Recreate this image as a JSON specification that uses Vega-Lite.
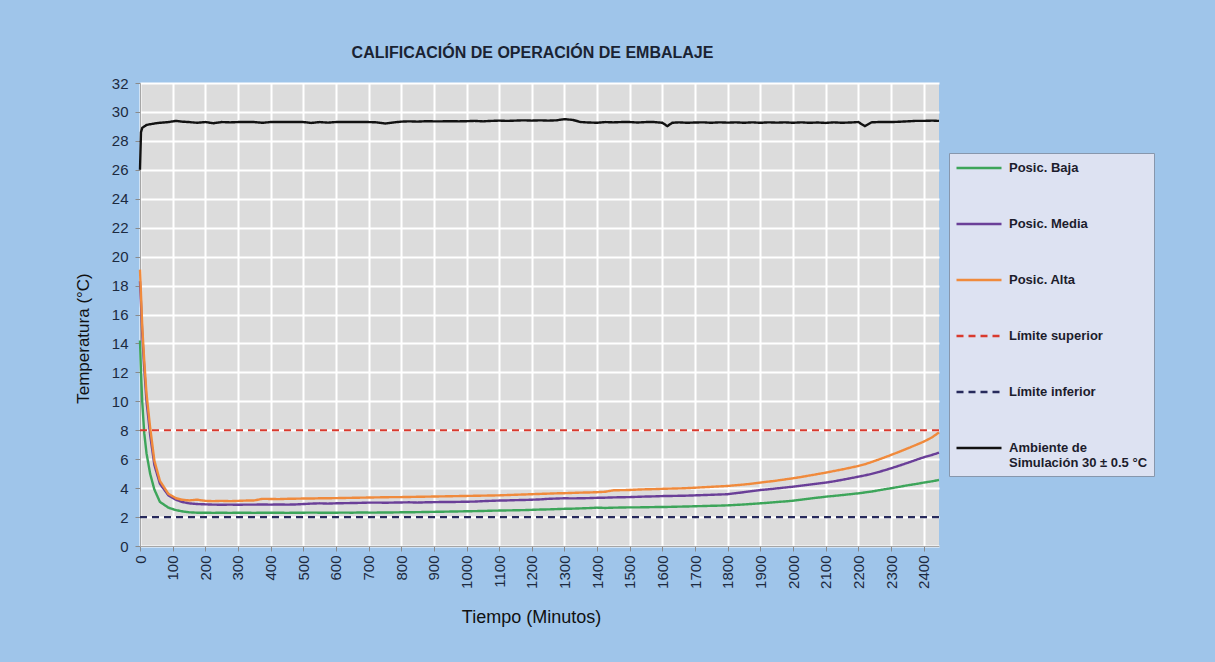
{
  "$schema": "https://vega.github.io/schema/vega-lite/v6.json",
  "width": 799,
  "height": 463,
  "autosize": {"type": "none"},
  "padding": {"left": 140, "top": 83, "right": 276, "bottom": 116},
  "background": "#9fc5ea",
  "title": {
    "text": "CALIFICACIÓN DE OPERACIÓN DE EMBALAJE",
    "font": "Liberation Sans",
    "fontSize": 16,
    "fontWeight": "bold",
    "color": "#1a2333",
    "anchor": "middle",
    "baseline": "middle",
    "offset": 7,
    "dx": -7
  },
  "config": {
    "font": "Liberation Sans",
    "view": {"fill": "#dcdcdc", "stroke": null},
    "axis": {
      "gridColor": "#ffffff",
      "gridWidth": 2,
      "gridOpacity": 1,
      "domainColor": "#a6a6a6",
      "tickColor": "#8a8a8a",
      "tickSize": 5,
      "labelColor": "#1c2a40",
      "labelFont": "Liberation Sans",
      "labelFontSize": 15,
      "titleFont": "Liberation Sans",
      "titleFontWeight": "normal",
      "titleColor": "#111111",
      "labelFlush": false,
      "labelOverlap": false
    },
    "legend": {
      "orient": "none",
      "legendX": 809,
      "legendY": 70,
      "padding": 6,
      "fillColor": "#dde2f2",
      "strokeColor": "#8797ad",
      "symbolType": "M-1,0H5",
      "symbolSize": 225,
      "symbolStrokeWidth": 2.5,
      "labelFont": "Liberation Sans",
      "labelFontSize": 13,
      "labelFontWeight": "bold",
      "labelColor": "#1c1c2c",
      "labelOffset": 36,
      "rowPadding": 40,
      "labelLimit": 300
    }
  },
  "layer": [
    {
      "data": {
        "values": [
          {"t": 0, "b": 14.2, "m": 18.3, "a": 19.1, "k": 26.0},
          {"t": 3, "b": 12.0, "m": 16.8, "a": 17.4, "k": 28.6},
          {"t": 7, "b": 9.9, "m": 14.6, "a": 15.1, "k": 28.9},
          {"t": 13, "b": 7.8, "m": 12.3, "a": 12.8, "k": 29.0},
          {"t": 20, "b": 6.4, "m": 10.0, "a": 10.5, "k": 29.1},
          {"t": 31, "b": 5.0, "m": 7.7, "a": 8.2, "k": 29.15},
          {"t": 44, "b": 3.9, "m": 5.6, "a": 5.9, "k": 29.2},
          {"t": 61, "b": 3.05, "m": 4.3, "a": 4.5, "k": 29.25},
          {"t": 87, "b": 2.65, "m": 3.5, "a": 3.6, "k": 29.3},
          {"t": 110, "b": 2.48, "m": 3.2, "a": 3.3, "k": 29.38},
          {"t": 128, "b": 2.4, "m": 3.05, "a": 3.2, "k": 29.33},
          {"t": 150, "b": 2.33, "m": 2.95, "a": 3.15, "k": 29.3},
          {"t": 175, "b": 2.3, "m": 2.9, "a": 3.2, "k": 29.25},
          {"t": 200, "b": 2.3, "m": 2.88, "a": 3.12, "k": 29.3},
          {"t": 225, "b": 2.29, "m": 2.86, "a": 3.1, "k": 29.22},
          {"t": 250, "b": 2.3, "m": 2.85, "a": 3.12, "k": 29.3},
          {"t": 275, "b": 2.29, "m": 2.86, "a": 3.1, "k": 29.28},
          {"t": 300, "b": 2.3, "m": 2.85, "a": 3.12, "k": 29.3},
          {"t": 325, "b": 2.3, "m": 2.86, "a": 3.14, "k": 29.3},
          {"t": 350, "b": 2.29, "m": 2.86, "a": 3.15, "k": 29.3},
          {"t": 375, "b": 2.3, "m": 2.87, "a": 3.26, "k": 29.25},
          {"t": 400, "b": 2.3, "m": 2.86, "a": 3.25, "k": 29.3},
          {"t": 425, "b": 2.3, "m": 2.87, "a": 3.24, "k": 29.3},
          {"t": 450, "b": 2.29, "m": 2.86, "a": 3.26, "k": 29.3},
          {"t": 475, "b": 2.3, "m": 2.87, "a": 3.27, "k": 29.3},
          {"t": 500, "b": 2.3, "m": 2.9, "a": 3.28, "k": 29.3},
          {"t": 525, "b": 2.31, "m": 2.93, "a": 3.28, "k": 29.24},
          {"t": 550, "b": 2.3, "m": 2.95, "a": 3.3, "k": 29.3},
          {"t": 575, "b": 2.3, "m": 2.93, "a": 3.3, "k": 29.26},
          {"t": 600, "b": 2.3, "m": 2.95, "a": 3.31, "k": 29.3},
          {"t": 625, "b": 2.31, "m": 2.96, "a": 3.32, "k": 29.3},
          {"t": 650, "b": 2.3, "m": 2.97, "a": 3.33, "k": 29.3},
          {"t": 675, "b": 2.32, "m": 2.98, "a": 3.34, "k": 29.3},
          {"t": 700, "b": 2.31, "m": 3.0, "a": 3.35, "k": 29.3},
          {"t": 725, "b": 2.31, "m": 3.0, "a": 3.36, "k": 29.28},
          {"t": 750, "b": 2.32, "m": 2.99, "a": 3.37, "k": 29.2},
          {"t": 775, "b": 2.32, "m": 3.0, "a": 3.38, "k": 29.27},
          {"t": 800, "b": 2.33, "m": 3.01, "a": 3.38, "k": 29.33},
          {"t": 825, "b": 2.33, "m": 3.02, "a": 3.39, "k": 29.35},
          {"t": 850, "b": 2.34, "m": 3.0, "a": 3.4, "k": 29.33},
          {"t": 875, "b": 2.35, "m": 3.02, "a": 3.41, "k": 29.36},
          {"t": 900, "b": 2.36, "m": 3.03, "a": 3.42, "k": 29.35},
          {"t": 925, "b": 2.37, "m": 3.04, "a": 3.43, "k": 29.35},
          {"t": 950, "b": 2.38, "m": 3.04, "a": 3.44, "k": 29.36},
          {"t": 975, "b": 2.39, "m": 3.05, "a": 3.45, "k": 29.35},
          {"t": 1000, "b": 2.4, "m": 3.06, "a": 3.46, "k": 29.36},
          {"t": 1025, "b": 2.41, "m": 3.07, "a": 3.47, "k": 29.38},
          {"t": 1050, "b": 2.42, "m": 3.1, "a": 3.48, "k": 29.35},
          {"t": 1075, "b": 2.44, "m": 3.12, "a": 3.49, "k": 29.38},
          {"t": 1100, "b": 2.45, "m": 3.14, "a": 3.5, "k": 29.4},
          {"t": 1125, "b": 2.46, "m": 3.15, "a": 3.52, "k": 29.38},
          {"t": 1150, "b": 2.47, "m": 3.17, "a": 3.54, "k": 29.4},
          {"t": 1175, "b": 2.48, "m": 3.18, "a": 3.56, "k": 29.42},
          {"t": 1200, "b": 2.5, "m": 3.2, "a": 3.58, "k": 29.4},
          {"t": 1225, "b": 2.52, "m": 3.22, "a": 3.6, "k": 29.42},
          {"t": 1250, "b": 2.53, "m": 3.26, "a": 3.62, "k": 29.4},
          {"t": 1275, "b": 2.55, "m": 3.28, "a": 3.64, "k": 29.42},
          {"t": 1300, "b": 2.57, "m": 3.3, "a": 3.65, "k": 29.5},
          {"t": 1325, "b": 2.58, "m": 3.29, "a": 3.67, "k": 29.45},
          {"t": 1350, "b": 2.6, "m": 3.3, "a": 3.69, "k": 29.3},
          {"t": 1375, "b": 2.62, "m": 3.31, "a": 3.7, "k": 29.27},
          {"t": 1400, "b": 2.65, "m": 3.33, "a": 3.72, "k": 29.25},
          {"t": 1425, "b": 2.63, "m": 3.34, "a": 3.75, "k": 29.3},
          {"t": 1450, "b": 2.65, "m": 3.36, "a": 3.85, "k": 29.28},
          {"t": 1475, "b": 2.66, "m": 3.37, "a": 3.86, "k": 29.3},
          {"t": 1500, "b": 2.67, "m": 3.38, "a": 3.87, "k": 29.3},
          {"t": 1525, "b": 2.67, "m": 3.4, "a": 3.9, "k": 29.27},
          {"t": 1550, "b": 2.68, "m": 3.42, "a": 3.92, "k": 29.3},
          {"t": 1575, "b": 2.69, "m": 3.43, "a": 3.93, "k": 29.3},
          {"t": 1600, "b": 2.7, "m": 3.45, "a": 3.95, "k": 29.25},
          {"t": 1615, "b": 2.7, "m": 3.46, "a": 3.96, "k": 29.02},
          {"t": 1630, "b": 2.71, "m": 3.46, "a": 3.97, "k": 29.25},
          {"t": 1650, "b": 2.72, "m": 3.47, "a": 3.98, "k": 29.28},
          {"t": 1675, "b": 2.73, "m": 3.48, "a": 4.0, "k": 29.25},
          {"t": 1700, "b": 2.75, "m": 3.5, "a": 4.03, "k": 29.27},
          {"t": 1725, "b": 2.76, "m": 3.52, "a": 4.06, "k": 29.28},
          {"t": 1750, "b": 2.78, "m": 3.54, "a": 4.09, "k": 29.25},
          {"t": 1775, "b": 2.79, "m": 3.56, "a": 4.12, "k": 29.28},
          {"t": 1800, "b": 2.81, "m": 3.58, "a": 4.15, "k": 29.26},
          {"t": 1825, "b": 2.84, "m": 3.65, "a": 4.2, "k": 29.28},
          {"t": 1850, "b": 2.87, "m": 3.72, "a": 4.25, "k": 29.25},
          {"t": 1875, "b": 2.91, "m": 3.8, "a": 4.31, "k": 29.28},
          {"t": 1900, "b": 2.95, "m": 3.87, "a": 4.38, "k": 29.25},
          {"t": 1925, "b": 2.99, "m": 3.92, "a": 4.45, "k": 29.28},
          {"t": 1950, "b": 3.04, "m": 3.98, "a": 4.52, "k": 29.26},
          {"t": 1975, "b": 3.08, "m": 4.04, "a": 4.6, "k": 29.28},
          {"t": 2000, "b": 3.13, "m": 4.1, "a": 4.68, "k": 29.25},
          {"t": 2025, "b": 3.2, "m": 4.17, "a": 4.77, "k": 29.28},
          {"t": 2050, "b": 3.27, "m": 4.24, "a": 4.87, "k": 29.25},
          {"t": 2075, "b": 3.34, "m": 4.31, "a": 4.97, "k": 29.27},
          {"t": 2100, "b": 3.41, "m": 4.38, "a": 5.07, "k": 29.24},
          {"t": 2125, "b": 3.46, "m": 4.47, "a": 5.18, "k": 29.28},
          {"t": 2150, "b": 3.52, "m": 4.57, "a": 5.29, "k": 29.25},
          {"t": 2175, "b": 3.58, "m": 4.68, "a": 5.41, "k": 29.27},
          {"t": 2200, "b": 3.64, "m": 4.79, "a": 5.53, "k": 29.3},
          {"t": 2220, "b": 3.7, "m": 4.88, "a": 5.65, "k": 29.02},
          {"t": 2240, "b": 3.76, "m": 4.98, "a": 5.8, "k": 29.28},
          {"t": 2260, "b": 3.84, "m": 5.1, "a": 5.96, "k": 29.3},
          {"t": 2280, "b": 3.92, "m": 5.23, "a": 6.12, "k": 29.3},
          {"t": 2300, "b": 3.99, "m": 5.37, "a": 6.29, "k": 29.3},
          {"t": 2325, "b": 4.09, "m": 5.55, "a": 6.51, "k": 29.32},
          {"t": 2350, "b": 4.19, "m": 5.74, "a": 6.74, "k": 29.35},
          {"t": 2375, "b": 4.28, "m": 5.94, "a": 6.97, "k": 29.38},
          {"t": 2400, "b": 4.38, "m": 6.13, "a": 7.21, "k": 29.38},
          {"t": 2425, "b": 4.47, "m": 6.29, "a": 7.5, "k": 29.4},
          {"t": 2447, "b": 4.56, "m": 6.45, "a": 7.85, "k": 29.38}
        ]
      },
      "transform": [{"fold": ["b", "m", "a", "k"], "as": ["s", "v"]}],
      "mark": {"type": "line", "strokeWidth": 2.4},
      "encoding": {
        "x": {
          "field": "t",
          "type": "quantitative",
          "scale": {"domain": [0, 2447], "nice": false, "zero": false},
          "axis": {
            "values": [0, 100, 200, 300, 400, 500, 600, 700, 800, 900, 1000, 1100, 1200, 1300, 1400, 1500, 1600, 1700, 1800, 1900, 2000, 2100, 2200, 2300, 2400],
            "format": "d",
            "labelAngle": -90,
            "labelPadding": 4,
            "labelOverlap": false,
            "title": "Tiempo (Minutos)",
            "titleFontSize": 18,
            "titleX": 391,
            "titleY": 71,
            "titleAlign": "center",
            "titleBaseline": "middle"
          }
        },
        "y": {
          "field": "v",
          "type": "quantitative",
          "scale": {"domain": [0, 32], "nice": false},
          "axis": {
            "values": [0, 2, 4, 6, 8, 10, 12, 14, 16, 18, 20, 22, 24, 26, 28, 30, 32],
            "format": "d",
            "labelPadding": 7,
            "labelOverlap": false,
            "title": "Temperatura  (°C)",
            "titleFontSize": 17,
            "titleAngle": -90,
            "titleX": -57,
            "titleY": 255,
            "titleAlign": "center",
            "titleBaseline": "middle"
          }
        },
        "color": {
          "field": "s",
          "type": "nominal",
          "scale": {
            "domain": ["b", "m", "a", "sup", "inf", "k"],
            "range": ["#3da55a", "#6a3f98", "#f08a3c", "#d93a2e", "#272a5c", "#111111"]
          },
          "legend": {
            "title": null,
            "labelExpr": "datum.label == 'b' ? 'Posic. Baja' : datum.label == 'm' ? 'Posic. Media' : datum.label == 'a' ? 'Posic. Alta' : datum.label == 'sup' ? 'Límite superior' : datum.label == 'inf' ? 'Límite inferior' : ['Ambiente de', 'Simulación 30 ± 0.5 °C']"
          }
        },
        "strokeDash": {
          "field": "s",
          "type": "nominal",
          "scale": {
            "domain": ["b", "m", "a", "sup", "inf", "k"],
            "range": [[1, 0], [1, 0], [1, 0], [7, 5], [7, 5], [1, 0]]
          },
          "legend": {
            "title": null,
            "labelExpr": "datum.label == 'b' ? 'Posic. Baja' : datum.label == 'm' ? 'Posic. Media' : datum.label == 'a' ? 'Posic. Alta' : datum.label == 'sup' ? 'Límite superior' : datum.label == 'inf' ? 'Límite inferior' : ['Ambiente de', 'Simulación 30 ± 0.5 °C']"
          }
        }
      }
    },
    {
      "data": {"values": [{"s": "sup", "v": 8}, {"s": "inf", "v": 2}]},
      "mark": {"type": "rule", "strokeWidth": 2.2},
      "encoding": {
        "y": {
          "field": "v",
          "type": "quantitative",
          "axis": {
            "values": [0, 2, 4, 6, 8, 10, 12, 14, 16, 18, 20, 22, 24, 26, 28, 30, 32],
            "format": "d",
            "labelPadding": 7,
            "labelOverlap": false,
            "title": "Temperatura  (°C)",
            "titleFontSize": 17,
            "titleAngle": -90,
            "titleX": -57,
            "titleY": 255,
            "titleAlign": "center",
            "titleBaseline": "middle"
          }
        },
        "color": {"field": "s", "type": "nominal"},
        "strokeDash": {"field": "s", "type": "nominal"}
      }
    }
  ]
}
